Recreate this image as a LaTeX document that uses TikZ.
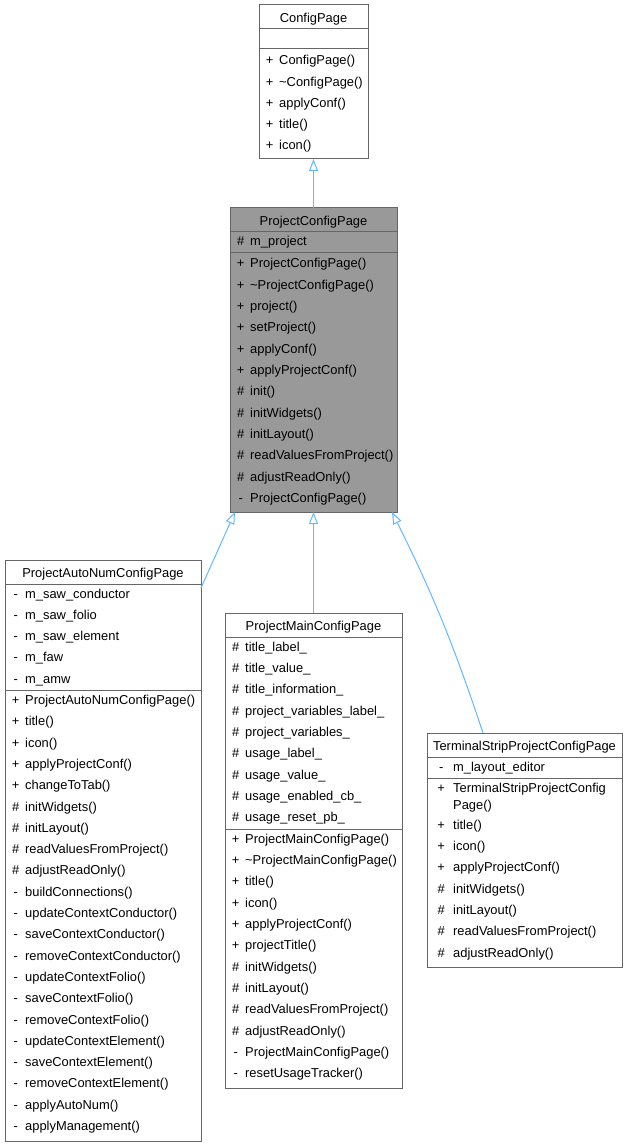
\documentclass[tikz,border=0pt]{standalone}
\usepackage{fontspec}
\setmainfont{Liberation Sans}
\usetikzlibrary{arrows.meta,positioning}
\definecolor{boxline}{HTML}{666666}
\definecolor{boxfill}{HTML}{999999}
\definecolor{edgeblue}{HTML}{63B8FF}
\tikzset{
  cls/.style={draw=boxline, line width=1pt, anchor=north west, inner sep=0pt, outer sep=0pt},
  clstitle/.style={inner sep=0pt, text height=9.3pt, text depth=2.7pt},
  mem/.style={anchor=west, inner sep=0pt, text height=9.3pt, text depth=2.7pt},
  sepline/.style={draw=boxline, line width=1pt},
  inherit/.style={draw=edgeblue, line width=1pt, -{Triangle[open, length=12pt, width=9pt]}},
}
\begin{document}
\begin{tikzpicture}[x=1pt, y=-1pt, font=\fontsize{12.9}{15.5}\selectfont]
  \useasboundingbox (0,0) rectangle (628,1147);

  % ConfigPage
  \node[cls, minimum width=109pt, minimum height=154pt] (cp) at (259,5) {};
  \node[clstitle] (cp-t) at ([yshift=-14pt]cp.north) {ConfigPage};
  \draw[sepline] (cp.west |- 0,29) -- (cp.east |- 0,29);
  \draw[sepline] (cp.west |- 0,48.5) -- (cp.east |- 0,48.5);
  \foreach \v/\m [count=\i from 0] in {+/ConfigPage(), +/\textasciitilde ConfigPage(),
      +/applyConf(), +/title(), +/icon()}
    \node[mem] (cp-op\i) at (263,{61.5+21.3*\i}) {\makebox[13pt]{\v}\kern3pt\m};

  % ProjectConfigPage
  \node[cls, fill=boxfill, minimum width=167pt, minimum height=304pt] (pcp) at (230,208) {};
  \node[clstitle] (pcp-t) at ([yshift=-14pt]pcp.north) {ProjectConfigPage};
  \draw[sepline] (pcp.west |- 0,232) -- (pcp.east |- 0,232);
  \draw[sepline] (pcp.west |- 0,253) -- (pcp.east |- 0,253);
  \node[mem] (pcp-at0) at (234,242.7) {\makebox[13pt]{\#}\kern3pt m\_project};
  \foreach \v/\m [count=\i from 0] in {+/ProjectConfigPage(), +/\textasciitilde ProjectConfigPage(),
      +/project(), +/setProject(), +/applyConf(), +/applyProjectConf(), \#/init(),
      \#/initWidgets(), \#/initLayout(), \#/readValuesFromProject(), \#/adjustReadOnly(),
      -/ProjectConfigPage()}
    \node[mem] (pcp-op\i) at (234,{264.7+21.3*\i}) {\makebox[13pt]{\v}\kern3pt\m};

  % ProjectAutoNumConfigPage
  \node[cls, minimum width=196pt, minimum height=581pt] (pan) at (5,560) {};
  \node[clstitle] (pan-t) at ([yshift=-14pt]pan.north) {ProjectAutoNumConfigPage};
  \draw[sepline] (pan.west |- 0,584) -- (pan.east |- 0,584);
  \draw[sepline] (pan.west |- 0,690) -- (pan.east |- 0,690);
  \foreach \v/\m [count=\i from 0] in {-/m\_saw\_conductor, -/m\_saw\_folio,
      -/m\_saw\_element, -/m\_faw, -/m\_amw}
    \node[mem] (pan-at\i) at (9,{594.7+21.3*\i}) {\makebox[13pt]{\v}\kern3pt\m};
  \foreach \v/\m [count=\i from 0] in {+/ProjectAutoNumConfigPage(), +/title(), +/icon(),
      +/applyProjectConf(), +/changeToTab(), \#/initWidgets(), \#/initLayout(),
      \#/readValuesFromProject(), \#/adjustReadOnly(), -/buildConnections(),
      -/updateContextConductor(), -/saveContextConductor(), -/removeContextConductor(),
      -/updateContextFolio(), -/saveContextFolio(), -/removeContextFolio(),
      -/updateContextElement(), -/saveContextElement(), -/removeContextElement(),
      -/applyAutoNum(), -/applyManagement()}
    \node[mem] (pan-op\i) at (9,{701.2+21.3*\i}) {\makebox[13pt]{\v}\kern3pt\m};

  % ProjectMainConfigPage
  \node[cls, minimum width=177pt, minimum height=475pt] (pmc) at (225,613) {};
  \node[clstitle] (pmc-t) at ([yshift=-14pt]pmc.north) {ProjectMainConfigPage};
  \draw[sepline] (pmc.west |- 0,637) -- (pmc.east |- 0,637);
  \draw[sepline] (pmc.west |- 0,829) -- (pmc.east |- 0,829);
  \foreach \v/\m [count=\i from 0] in {\#/title\_label\_, \#/title\_value\_,
      \#/title\_information\_, \#/project\_variables\_label\_, \#/project\_variables\_,
      \#/usage\_label\_, \#/usage\_value\_, \#/usage\_enabled\_cb\_, \#/usage\_reset\_pb\_}
    \node[mem] (pmc-at\i) at (229,{648+21.3*\i}) {\makebox[13pt]{\v}\kern3pt\m};
  \foreach \v/\m [count=\i from 0] in {+/ProjectMainConfigPage(),
      +/\textasciitilde ProjectMainConfigPage(), +/title(), +/icon(), +/applyProjectConf(),
      +/projectTitle(), \#/initWidgets(), \#/initLayout(), \#/readValuesFromProject(),
      \#/adjustReadOnly(), -/ProjectMainConfigPage(), -/resetUsageTracker()}
    \node[mem] (pmc-op\i) at (229,{840+21.3*\i}) {\makebox[13pt]{\v}\kern3pt\m};

  % TerminalStripProjectConfigPage
  \node[cls, minimum width=195pt, minimum height=234pt] (tsp) at (427,733) {};
  \node[clstitle] (tsp-t) at ([yshift=-14pt]tsp.north) {TerminalStripProjectConfigPage};
  \draw[sepline] (tsp.west |- 0,757) -- (tsp.east |- 0,757);
  \draw[sepline] (tsp.west |- 0,778) -- (tsp.east |- 0,778);
  \node[mem] (tsp-at0) at (434.5,768.3) {\makebox[13pt]{-}\kern5.5pt m\_layout\_editor};
  \node[mem] (tsp-op0) at (434.5,789.5) {\makebox[13pt]{+}\kern5.5pt TerminalStripProjectConfig};
  \node[mem] (tsp-op0b) at (453,806) {Page()};
  \foreach \v/\m [count=\i from 1] in {+/title(), +/icon(), +/applyProjectConf(),
      \#/initWidgets(), \#/initLayout(), \#/readValuesFromProject(), \#/adjustReadOnly()}
    \node[mem] (tsp-op\i) at (434.5,{804.7+21.3*\i}) {\makebox[13pt]{\v}\kern5.5pt\m};

  % inheritance
  \draw[inherit] (pcp.north) -- (cp.south);
  \draw[inherit] ([yshift=-28pt]pan.north east) -- ([xshift=5pt]pcp.south west);
  \draw[inherit] (pmc.north) -- (pcp.south);
  \draw[inherit] ([xshift=-41.5pt]tsp.north) to[bend right=4] ([xshift=-5pt]pcp.south east);
\end{tikzpicture}
\end{document}
